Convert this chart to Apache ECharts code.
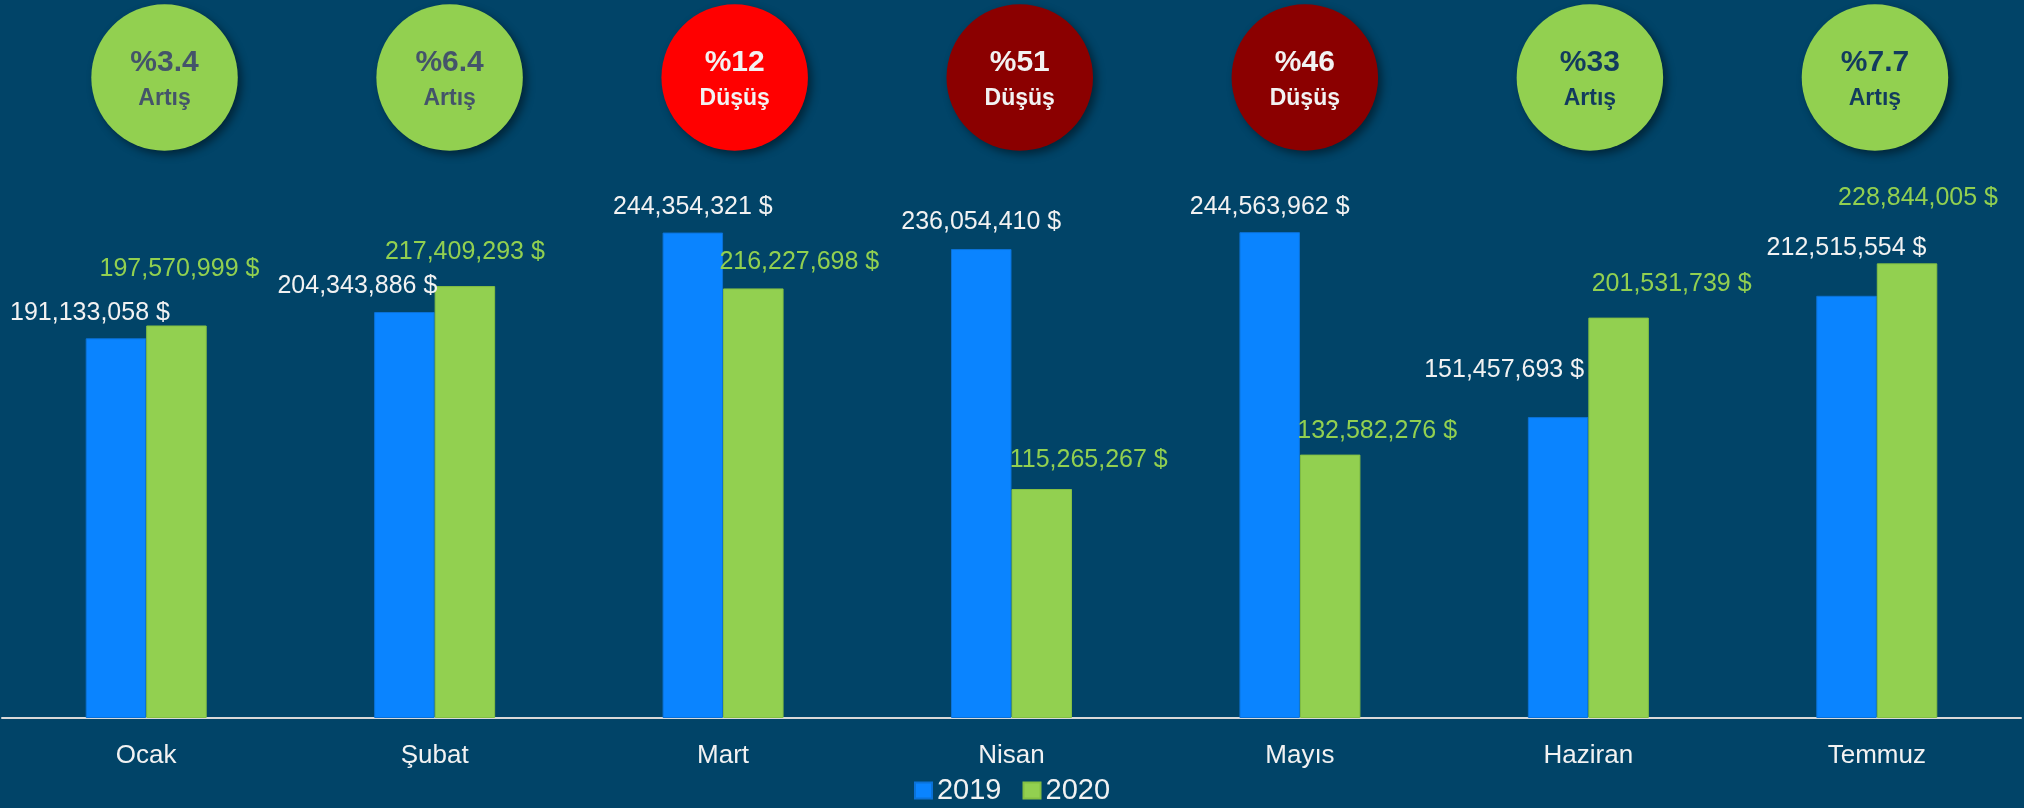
<!DOCTYPE html>
<html>
<head>
<meta charset="utf-8">
<script src="https://cdn.jsdelivr.net/npm/echarts@6/dist/echarts.min.js"></script>
<style>
html, body { margin: 0; padding: 0; background: #014468; }
#chart { width: 2024px; height: 808px; }
</style>
</head>
<body>
<div id="chart"></div>
<script>
// aylar ve ihracat değerleri ($)
const months = ['Ocak', 'Şubat', 'Mart', 'Nisan', 'Mayıs', 'Haziran', 'Temmuz']
const values2019 = [191133058, 204343886, 244354321, 236054410, 244563962, 151457693, 212515554]
const values2020 = [197570999, 217409293, 216227698, 115265267, 132582276, 201531739, 228844005]

// elle yerleştirilmiş etiketlerin kaydırmaları [dx, dy]
const labelShift2019 = [[-26, -11], [-47, -11], [0, -11], [0, -12], [0, -11], [-54, -32], [0, -33]]
const labelShift2020 = [[3, -42], [0, -19], [46, -12], [47, -14], [47, -9], [53, -19], [11, -51]]
// balonlardaki yazı rengi
const bubbleTextColor = ['#44546a', '#44546a', '#f2f2f2', '#f2f2f2', '#f2f2f2', '#123b5e', '#123b5e']

const font = "'Liberation Sans', Arial, sans-serif"

const changes = values2019.map((v, i) => (values2020[i] - v) / v * 100)

function bubbleColor (pct) {
  if (pct >= 0) return '#92d050'
  return pct > -20 ? '#ff0000' : '#8b0000'
}

const money = p => p.value.toLocaleString('en-US') + ' $'

const chart = echarts.init(document.getElementById('chart'))
chart.setOption({
  backgroundColor: '#014468',
  animation: false,
  textStyle: { fontFamily: font },
  legend: {
    data: ['2019', '2020'],
    left: 'center',
    top: 771,
    icon: 'rect',
    itemWidth: 17,
    itemHeight: 16,
    itemGap: 21,
    textStyle: {
      color: '#f2f2f2',
      fontSize: 29,
      fontFamily: font
    }
  },
  grid: [
    { left: 2, right: 3, top: 122, bottom: 90 },
    { left: 22, right: 6.5, top: 4, height: 147 }
  ],
  xAxis: [{
    type: 'category',
    data: months,
    axisTick: { show: false },
    axisLine: { lineStyle: { color: '#d9d9d9', width: 2 } },
    axisLabel: {
      interval: 0,
      margin: 25,
      color: '#f2f2f2',
      fontSize: 26,
      fontFamily: font
    }
  }, {
    type: 'category',
    gridIndex: 1,
    data: months,
    show: false
  }],
  yAxis: [{
    type: 'value',
    min: 0,
    max: 300000000,
    show: false,
    splitLine: { show: false }
  }, {
    type: 'value',
    gridIndex: 1,
    min: -1,
    max: 1,
    show: false
  }],
  series: [
    {
      name: '2019',
      type: 'bar',
      barWidth: 60.5,
      barGap: '0%',
      itemStyle: { color: '#0a84ff', borderColor: '#0b72d8', borderWidth: 1 },
      label: {
        show: true,
        position: 'top',
        distance: 0,
        color: '#f2f2f2',
        fontSize: 25,
        lineHeight: 29,
        fontFamily: font,
        formatter: money
      },
      data: values2019.map((v, i) => ({ value: v, label: { offset: labelShift2019[i] } }))
    },
    {
      name: '2020',
      type: 'bar',
      barWidth: 60.5,
      barGap: '0%',
      itemStyle: { color: '#92d050', borderColor: '#84c043', borderWidth: 1 },
      label: {
        show: true,
        position: 'top',
        distance: 0,
        color: '#92d050',
        fontSize: 25,
        lineHeight: 29,
        fontFamily: font,
        formatter: money
      },
      data: values2020.map((v, i) => ({ value: v, label: { offset: labelShift2020[i] } }))
    },
    {
      type: 'scatter',
      xAxisIndex: 1,
      yAxisIndex: 1,
      symbol: 'circle',
      symbolSize: 146.5,
      silent: true,
      data: changes.map((pct, i) => ({
        value: 0,
        itemStyle: {
          color: bubbleColor(pct),
          opacity: 1,
          shadowBlur: 8,
          shadowOffsetX: 4,
          shadowOffsetY: 4,
          shadowColor: 'rgba(0, 0, 0, 0.45)'
        },
        label: { color: bubbleTextColor[i] }
      })),
      label: {
        show: true,
        position: 'inside',
        offset: [0, 3],
        fontFamily: font,
        fontWeight: 'bold',
        formatter: p => {
          const pct = changes[p.dataIndex]
          const kind = pct >= 0 ? 'Artış' : 'Düşüş'
          return '{p|%' + Math.abs(pct).toPrecision(2) + '}\n{k|' + kind + '}'
        },
        rich: {
          p: { fontSize: 30, lineHeight: 36, fontWeight: 'bold', fontFamily: font },
          k: { fontSize: 23, lineHeight: 36, fontWeight: 'bold', fontFamily: font }
        }
      }
    }
  ]
})
</script>
</body>
</html>
